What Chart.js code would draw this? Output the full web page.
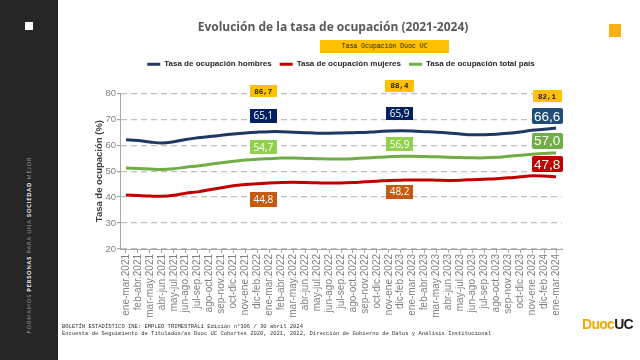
<!DOCTYPE html>
<html>
<head>
<meta charset="utf-8">
<script src="https://cdn.jsdelivr.net/npm/chart.js@4.4.1/dist/chart.umd.min.js"></script>
<style>
  html, body { margin: 0; padding: 0; background: #fff; }
  #page { position: relative; width: 640px; height: 360px; overflow: hidden; background: #fff; }
  #myChart { position: absolute; left: 0; top: 0; }
  .side { position: absolute; left: 0; top: 0; width: 58px; height: 360px; background: #262626; }
  .side .sq { position: absolute; left: 25px; top: 22px; width: 8px; height: 8px; background: #fff; }
  .side .motto { position: absolute; left: -64px; top: 241px; width: 186px; height: 8px; line-height: 8px;
    transform: rotate(-90deg); transform-origin: center; text-align: center; white-space: nowrap;
    font-family: Lato, sans-serif; font-size: 5.5px; letter-spacing: 0.9px; color: #9a9a9a; }
  .side .motto b { color: #fff; }
  .tag { position: absolute; left: 320px; top: 40px; width: 129px; height: 13px; line-height: 13px; background: #FFC000;
    text-align: center; font-family: "Liberation Mono", monospace; font-size: 6.5px; color: #222; }
  .corner { position: absolute; left: 609px; top: 24px; width: 12px; height: 13px; background: #FBB116; }
  .foot { position: absolute; left: 62px; top: 323px; font-family: "Liberation Mono", monospace; font-size: 5.5px;
    line-height: 7px; color: #333; white-space: nowrap; }
  .logo { position: absolute; left: 582px; top: 315px; font-family: "Liberation Sans", sans-serif; font-weight: bold;
    font-size: 14px; line-height: 18px; letter-spacing: -0.7px; }
  .logo .d { color: #F2A900; }
  .logo .u { color: #1d1d1b; }
</style>
</head>
<body>
<div id="page">
  <canvas id="myChart" width="640" height="360"></canvas>
  <div class="side">
    <div class="sq"></div>
    <div class="motto">FORMAMOS <b>PERSONAS</b> PARA UNA <b>SOCIEDAD</b> MEJOR</div>
  </div>
  <div class="tag">Tasa Ocupación Duoc UC</div>
  <div class="corner"></div>
  <div class="foot">BOLETÍN ESTADÍSTICO INE: EMPLEO TRIMESTRAL1 Edición n°306 / 30 abril 2024<br>Encuesta de Seguimiento de Titulados/as Duoc UC Cohortes 2020, 2021, 2022, Dirección de Gobierno de Datos y Análisis Institucional</div>
  <div class="logo"><span class="d">Duoc</span><span class="u">UC</span></div>
</div>
<script>
const periodos = [
  'ene-mar.2021', 'feb-abr.2021', 'mar-may.2021', 'abr-jun.2021', 'may-jul.2021', 'jun-ago.2021',
  'jul-sep.2021', 'ago-oct.2021', 'sep-nov.2021', 'oct-dic.2021', 'nov-ene.2021', 'dic-feb.2022',
  'ene-mar.2022', 'feb-abr.2022', 'mar-may.2022', 'abr-jun.2022', 'may-jul.2022', 'jun-ago.2022',
  'jul-sep.2022', 'ago-oct.2022', 'sep-nov.2022', 'oct-dic.2022', 'nov-ene.2022', 'dic-feb.2023',
  'ene-mar.2023', 'feb-abr.2023', 'mar-may.2023', 'abr-jun.2023', 'may-jul.2023', 'jun-ago.2023',
  'jul-sep.2023', 'ago-oct.2023', 'sep-nov.2023', 'oct-dic.2023', 'nov-ene.2023', 'dic-feb.2024',
  'ene-mar.2024'
];

const hombres = [
  62.1, 61.8, 61.2, 60.8, 61.3, 62.2, 62.8, 63.3, 63.8, 64.3, 64.7, 65.0,
  65.2, 65.2, 65.0, 64.8, 64.6, 64.6, 64.7, 64.8, 64.9, 65.2, 65.4, 65.5,
  65.4, 65.2, 65.0, 64.7, 64.3, 64.0, 64.0, 64.2, 64.6, 65.1, 65.7, 66.1, 66.6
];
const mujeres = [
  40.8, 40.6, 40.4, 40.3, 40.7, 41.5, 42.0, 42.8, 43.6, 44.4, 44.8, 45.1,
  45.4, 45.6, 45.7, 45.6, 45.5, 45.4, 45.4, 45.6, 45.9, 46.1, 46.4, 46.5,
  46.6, 46.6, 46.5, 46.4, 46.5, 46.7, 46.9, 47.1, 47.4, 47.8, 48.2, 48.1, 47.8
];
const totalPais = [
  51.2, 51.0, 50.8, 50.6, 50.9, 51.5, 52.0, 52.6, 53.2, 53.8, 54.3, 54.6,
  54.8, 55.0, 55.0, 54.9, 54.8, 54.7, 54.7, 54.8, 55.0, 55.3, 55.5, 55.7,
  55.7, 55.6, 55.5, 55.3, 55.2, 55.1, 55.1, 55.3, 55.7, 56.1, 56.5, 56.8, 57.0
];

// valores destacados (dic-feb.2022, dic-feb.2023, ene-mar.2024)
const duocLabels = ['86,7', '88,4', '82,1'];
const hombresLabels = ['65,1', '65,9', '66,6'];
const totalLabels = ['54,7', '56,9', '57,0'];
const mujeresLabels = ['44,8', '48,2', '47,8'];

const yTicks = [20, 30, 40, 50, 60, 70, 80];

const NAVY = '#1F3864', RED = '#C00000', GREEN = '#70AD47';

// where the value boxes sit (category index, y value) and how they look
const boxLayout = {
  cols: [11.5, 22.9, 35.25],
  rows: [
    { labels: duocLabels, at: [80.7, 82.8, 78.8], fill: ['#FFC000', '#FFC000', '#FFC000'], ink: '#1a1a1a',
      font: ['bold 7.5px "Liberation Mono"', 'bold 7.5px "Liberation Mono"', 'bold 7.5px "Liberation Mono"'],
      w: [27, 29, 29], h: [12, 12, 12], r: [0, 0, 1] },
    { labels: hombresLabels, at: [71.3, 72.1, 71.1], fill: ['#002060', '#002060', '#1F4E79'], ink: '#fff',
      font: ['10px "Open Sans"', '10px "Open Sans"', '13.5px "Liberation Sans"'],
      w: [27, 27, 31], h: [14, 13, 16], r: [0, 0, 2] },
    { labels: totalLabels, at: [59.1, 60.3, 61.6], fill: ['#92D050', '#92D050', '#70AD47'], ink: '#fff',
      font: ['10px "Open Sans"', '10px "Open Sans"', '13.5px "Liberation Sans"'],
      w: [27, 27, 31], h: [14, 14, 16], r: [0, 0, 2] },
    { labels: mujeresLabels, at: [38.9, 41.9, 52.6], fill: ['#C55A11', '#C55A11', '#C00000'], ink: '#fff',
      font: ['10px "Open Sans"', '10px "Open Sans"', '13.5px "Liberation Sans"'],
      w: [27, 27, 31], h: [15, 14, 16], r: [0, 0, 2] }
  ]
};

const valueBoxes = {
  id: 'valueBoxes',
  afterDatasetsDraw(chart) {
    const ctx = chart.ctx;
    const x = chart.scales.x, y = chart.scales.y;
    ctx.save();
    boxLayout.rows.forEach(row => {
      row.labels.forEach((txt, i) => {
        const cx = x.getPixelForValue(boxLayout.cols[i]);
        const cy = y.getPixelForValue(row.at[i]);
        const w = row.w[i], h = row.h[i];
        ctx.fillStyle = row.fill[i];
        ctx.beginPath();
        ctx.roundRect(Math.round(cx - w / 2), Math.round(cy - h / 2), w, h, row.r[i]);
        ctx.fill();
        ctx.fillStyle = row.ink;
        ctx.font = row.font[i];
        ctx.textAlign = 'center';
        ctx.textBaseline = 'middle';
        ctx.fillText(txt, cx, cy + 0.5);
      });
    });
    ctx.restore();
  }
};

const data = {
  labels: periodos,
  datasets: [
    { label: 'Tasa de ocupación hombres', data: hombres, borderColor: NAVY, backgroundColor: NAVY },
    { label: 'Tasa de ocupación mujeres', data: mujeres, borderColor: RED, backgroundColor: RED },
    { label: 'Tasa de ocupación total país', data: totalPais, borderColor: GREEN, backgroundColor: GREEN }
  ]
};

const config = {
  type: 'line',
  data: data,
  options: {
    responsive: false,
    animation: false,
    devicePixelRatio: 1,
    layout: { padding: { left: 104, right: 78, top: 10, bottom: 41 } },
    elements: {
      line: { borderWidth: 3, tension: 0.35, fill: false },
      point: { radius: 0 }
    },
    plugins: {
      title: {
        display: true,
        text: 'Evolución de la tasa de ocupación (2021-2024)',
        color: '#595959',
        font: { family: 'Open Sans', size: 12, weight: 'bold' },
        padding: { top: 10.8, bottom: 17.0 }
      },
      legend: {
        position: 'top',
        fullSize: false,
        labels: {
          boxWidth: 13,
          boxHeight: 3,
          padding: 8,
          color: '#262626',
          font: { family: 'Liberation Sans', size: 8, weight: 'bold' },
          generateLabels(chart) {
            const items = Chart.defaults.plugins.legend.labels.generateLabels(chart);
            items.forEach(it => { it.lineWidth = 0; });
            return items;
          }
        }
      },
      subtitle: {
        display: true,
        text: '',
        weight: 500,
        font: { size: 10 },
        padding: { top: 3, bottom: 0 }
      },
      tooltip: { enabled: false }
    },
    scales: {
      x: {
        offset: true,
        afterFit(s) { s.height = 70; },
        grid: { drawOnChartArea: false, tickLength: 4, tickColor: '#a6a6a6' },
        border: { display: true, color: '#a6a6a6', width: 1 },
        ticks: {
          autoSkip: false, maxRotation: 90, minRotation: 90, padding: 1,
          color: '#7f7f7f', font: { family: 'Liberation Sans', size: 10 }
        }
      },
      y: {
        min: 20,
        max: 80,
        afterFit(s) { s.width = 16; },
        afterBuildTicks(s) { s.ticks = yTicks.map(v => ({ value: v })); },
        title: {
          display: true,
          text: 'Tasa de ocupación (%)',
          color: '#404040',
          font: { family: 'Liberation Sans', size: 9.5, weight: 'bold' },
          padding: { top: -10.5, bottom: 0 }
        },
        grid: { color: '#bfbfbf', lineWidth: 1.2, tickLength: 3, tickColor: '#a6a6a6', tickBorderDash: [] },
        border: { display: true, color: '#a6a6a6', width: 1, dash: [6, 4] },
        ticks: { padding: 1, color: '#808080', font: { family: 'Liberation Sans', size: 9.5 } }
      }
    }
  },
  plugins: [valueBoxes]
};

const myChart = new Chart(document.getElementById('myChart'), config);
</script>
</body>
</html>
